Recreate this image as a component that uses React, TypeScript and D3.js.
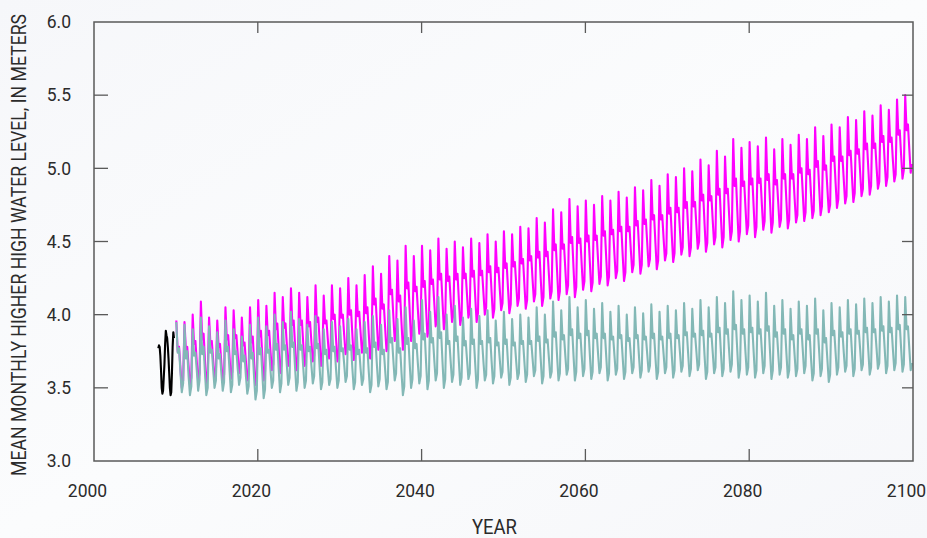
import React, { useEffect, useRef, useState } from "react";
import * as d3 from "d3";

const X_TICKS = [2000, 2020, 2040, 2060, 2080, 2100];
const Y_TICKS = [3.0, 3.5, 4.0, 4.5, 5.0, 5.5, 6.0];
const Y_LABEL = "MEAN MONTHLY HIGHER HIGH WATER LEVEL, IN METERS";
const X_LABEL = "YEAR";

// Observed record, monthly, starting late 2007
const OBS_START = 2007.85;
const OBSERVED = [3.77, 3.79, 3.78, 3.72, 3.62, 3.5, 3.46, 3.48, 3.57, 3.66, 3.8, 3.89, 3.86, 3.84, 3.78, 3.7, 3.6, 3.5, 3.45, 3.47, 3.6, 3.78, 3.88, 3.84];

// Projections, one row per year from 2010, six bi-monthly samples each
const PROJ_START = 2010;
const LOW_ROWS = [
  [3.95, 3.74, 3.77, 3.61, 3.47, 3.53], [3.93, 3.7, 3.75, 3.58, 3.45, 3.51], [3.9, 3.72, 3.74, 3.62, 3.48, 3.55],
  [3.98, 3.73, 3.78, 3.6, 3.45, 3.5], [3.92, 3.74, 3.76, 3.63, 3.5, 3.55], [3.88, 3.7, 3.73, 3.6, 3.48, 3.54],
  [3.96, 3.75, 3.78, 3.62, 3.47, 3.52], [3.9, 3.73, 3.75, 3.63, 3.52, 3.57], [3.85, 3.68, 3.72, 3.58, 3.46, 3.51],
  [3.93, 3.7, 3.74, 3.57, 3.42, 3.48], [3.98, 3.73, 3.77, 3.6, 3.43, 3.49], [3.92, 3.74, 3.76, 3.62, 3.5, 3.55],
  [4.0, 3.76, 3.8, 3.63, 3.47, 3.53], [3.95, 3.76, 3.79, 3.65, 3.52, 3.57], [4.02, 3.78, 3.81, 3.64, 3.48, 3.54],
  [3.97, 3.76, 3.79, 3.64, 3.5, 3.55], [3.93, 3.75, 3.78, 3.65, 3.53, 3.58], [3.99, 3.77, 3.8, 3.64, 3.49, 3.54],
  [3.9, 3.73, 3.76, 3.63, 3.52, 3.56], [3.95, 3.75, 3.78, 3.63, 3.5, 3.55], [3.92, 3.75, 3.77, 3.66, 3.54, 3.58],
  [3.97, 3.76, 3.79, 3.63, 3.49, 3.54], [3.9, 3.73, 3.76, 3.63, 3.52, 3.56], [3.95, 3.74, 3.77, 3.61, 3.47, 3.52],
  [3.99, 3.78, 3.81, 3.65, 3.51, 3.56], [3.93, 3.73, 3.76, 3.62, 3.49, 3.54], [4.03, 3.81, 3.84, 3.69, 3.55, 3.6],
  [3.97, 3.74, 3.77, 3.6, 3.45, 3.51], [4.05, 3.8, 3.84, 3.66, 3.5, 3.56], [3.96, 3.77, 3.8, 3.66, 3.53, 3.58],
  [4.1, 3.83, 3.87, 3.67, 3.49, 3.55], [4.02, 3.81, 3.84, 3.69, 3.55, 3.6], [4.12, 3.84, 3.88, 3.68, 3.5, 3.56],
  [4.0, 3.8, 3.82, 3.68, 3.54, 3.59], [4.06, 3.82, 3.85, 3.68, 3.52, 3.57], [3.98, 3.79, 3.82, 3.69, 3.56, 3.6],
  [4.04, 3.8, 3.83, 3.66, 3.5, 3.56], [3.99, 3.8, 3.82, 3.68, 3.55, 3.59], [4.03, 3.81, 3.84, 3.68, 3.53, 3.58],
  [3.96, 3.79, 3.81, 3.69, 3.57, 3.61], [4.02, 3.8, 3.83, 3.67, 3.52, 3.57], [3.97, 3.79, 3.81, 3.68, 3.56, 3.6],
  [4.0, 3.8, 3.82, 3.68, 3.54, 3.59], [3.98, 3.8, 3.82, 3.7, 3.58, 3.62], [4.05, 3.82, 3.85, 3.69, 3.53, 3.58],
  [4.0, 3.81, 3.83, 3.7, 3.57, 3.61], [4.09, 3.85, 3.88, 3.71, 3.55, 3.6], [4.03, 3.83, 3.86, 3.72, 3.59, 3.63],
  [4.12, 3.86, 3.9, 3.72, 3.55, 3.61], [4.05, 3.84, 3.87, 3.72, 3.58, 3.63], [4.1, 3.86, 3.89, 3.72, 3.56, 3.61],
  [4.04, 3.84, 3.87, 3.73, 3.6, 3.64], [4.08, 3.84, 3.87, 3.71, 3.55, 3.6], [4.02, 3.83, 3.85, 3.72, 3.59, 3.63],
  [4.06, 3.84, 3.86, 3.71, 3.56, 3.61], [4.0, 3.82, 3.84, 3.72, 3.6, 3.64], [4.05, 3.84, 3.86, 3.71, 3.57, 3.62],
  [4.01, 3.83, 3.85, 3.73, 3.61, 3.65], [4.07, 3.84, 3.87, 3.71, 3.56, 3.61], [4.02, 3.83, 3.85, 3.73, 3.6, 3.64],
  [4.06, 3.84, 3.87, 3.72, 3.57, 3.62], [4.03, 3.84, 3.86, 3.74, 3.61, 3.65], [4.08, 3.86, 3.88, 3.73, 3.58, 3.63],
  [4.04, 3.85, 3.87, 3.75, 3.62, 3.66], [4.1, 3.86, 3.89, 3.72, 3.56, 3.61], [4.05, 3.85, 3.87, 3.74, 3.6, 3.64],
  [4.12, 3.88, 3.91, 3.74, 3.58, 3.63], [4.08, 3.87, 3.9, 3.75, 3.61, 3.66], [4.16, 3.9, 3.93, 3.75, 3.57, 3.63],
  [4.1, 3.87, 3.9, 3.74, 3.59, 3.64], [4.13, 3.88, 3.91, 3.74, 3.57, 3.62], [4.09, 3.87, 3.9, 3.75, 3.6, 3.65],
  [4.15, 3.89, 3.92, 3.74, 3.56, 3.62], [4.06, 3.85, 3.88, 3.73, 3.59, 3.64], [4.1, 3.87, 3.9, 3.73, 3.57, 3.62],
  [4.04, 3.83, 3.86, 3.72, 3.58, 3.63], [4.09, 3.87, 3.9, 3.75, 3.6, 3.65], [4.06, 3.83, 3.86, 3.7, 3.55, 3.6],
  [4.11, 3.87, 3.9, 3.74, 3.58, 3.63], [4.03, 3.81, 3.84, 3.69, 3.54, 3.59], [4.08, 3.86, 3.89, 3.74, 3.59, 3.64],
  [4.05, 3.85, 3.88, 3.74, 3.61, 3.65], [4.1, 3.87, 3.9, 3.74, 3.58, 3.63], [4.07, 3.87, 3.89, 3.76, 3.62, 3.66],
  [4.11, 3.88, 3.91, 3.75, 3.59, 3.64], [4.08, 3.88, 3.9, 3.77, 3.63, 3.67], [4.12, 3.89, 3.92, 3.76, 3.6, 3.65],
  [4.09, 3.88, 3.91, 3.76, 3.62, 3.67], [4.13, 3.9, 3.93, 3.77, 3.61, 3.66], [4.12, 3.9, 3.92, 3.77, 3.62, 3.67],
];
const HIGH_ROWS = [
  [3.96, 3.75, 3.78, 3.64, 3.5, 3.55], [3.95, 3.76, 3.78, 3.65, 3.52, 3.57], [4.0, 3.8, 3.82, 3.68, 3.55, 3.6],
  [4.09, 3.83, 3.87, 3.69, 3.52, 3.58], [3.98, 3.8, 3.82, 3.69, 3.57, 3.61], [3.96, 3.78, 3.8, 3.67, 3.55, 3.59],
  [4.05, 3.83, 3.86, 3.71, 3.56, 3.61], [4.03, 3.84, 3.86, 3.73, 3.6, 3.64], [3.98, 3.79, 3.81, 3.68, 3.55, 3.6],
  [4.05, 3.81, 3.85, 3.68, 3.52, 3.58], [4.1, 3.85, 3.89, 3.72, 3.55, 3.61], [4.06, 3.86, 3.89, 3.75, 3.62, 3.66],
  [4.15, 3.9, 3.94, 3.77, 3.6, 3.66], [4.12, 3.91, 3.94, 3.79, 3.65, 3.7], [4.18, 3.93, 3.96, 3.79, 3.62, 3.68],
  [4.15, 3.93, 3.96, 3.8, 3.65, 3.7], [4.12, 3.92, 3.95, 3.81, 3.68, 3.72], [4.2, 3.95, 3.98, 3.82, 3.65, 3.71],
  [4.13, 3.94, 3.96, 3.83, 3.7, 3.74], [4.2, 3.97, 4.0, 3.84, 3.68, 3.73], [4.18, 3.98, 4.0, 3.86, 3.73, 3.77],
  [4.25, 4.0, 4.03, 3.86, 3.69, 3.75], [4.2, 3.99, 4.02, 3.88, 3.74, 3.78], [4.27, 4.01, 4.05, 3.87, 3.7, 3.76],
  [4.33, 4.07, 4.11, 3.93, 3.76, 3.82], [4.28, 4.04, 4.07, 3.91, 3.75, 3.8], [4.4, 4.14, 4.17, 3.99, 3.82, 3.88],
  [4.37, 4.09, 4.13, 3.94, 3.76, 3.82], [4.47, 4.18, 4.22, 4.02, 3.82, 3.88], [4.4, 4.16, 4.19, 4.03, 3.87, 3.92],
  [4.47, 4.19, 4.23, 4.04, 3.85, 3.91], [4.44, 4.21, 4.24, 4.08, 3.92, 3.97], [4.52, 4.24, 4.28, 4.09, 3.9, 3.96],
  [4.45, 4.23, 4.26, 4.1, 3.95, 4.0], [4.5, 4.24, 4.28, 4.1, 3.93, 3.99], [4.46, 4.25, 4.28, 4.13, 3.98, 4.03],
  [4.52, 4.26, 4.3, 4.12, 3.95, 4.01], [4.49, 4.27, 4.3, 4.15, 4.0, 4.05], [4.55, 4.29, 4.33, 4.15, 3.98, 4.04],
  [4.5, 4.29, 4.32, 4.17, 4.03, 4.08], [4.57, 4.32, 4.35, 4.18, 4.01, 4.07], [4.55, 4.33, 4.36, 4.21, 4.06, 4.11],
  [4.6, 4.35, 4.38, 4.21, 4.04, 4.1], [4.59, 4.37, 4.4, 4.24, 4.09, 4.14], [4.66, 4.39, 4.43, 4.24, 4.06, 4.12],
  [4.63, 4.4, 4.43, 4.27, 4.11, 4.16], [4.72, 4.44, 4.48, 4.29, 4.1, 4.16], [4.7, 4.45, 4.48, 4.31, 4.14, 4.2],
  [4.79, 4.49, 4.53, 4.32, 4.12, 4.19], [4.74, 4.49, 4.52, 4.34, 4.17, 4.23], [4.78, 4.5, 4.54, 4.35, 4.16, 4.22],
  [4.75, 4.51, 4.54, 4.37, 4.21, 4.26], [4.81, 4.54, 4.57, 4.38, 4.2, 4.26], [4.78, 4.55, 4.58, 4.41, 4.25, 4.3],
  [4.84, 4.57, 4.6, 4.41, 4.23, 4.29], [4.8, 4.57, 4.6, 4.44, 4.29, 4.34], [4.87, 4.61, 4.64, 4.46, 4.28, 4.34],
  [4.85, 4.62, 4.65, 4.49, 4.33, 4.38], [4.92, 4.65, 4.68, 4.49, 4.31, 4.37], [4.88, 4.65, 4.68, 4.52, 4.37, 4.42],
  [4.96, 4.69, 4.73, 4.54, 4.36, 4.42], [4.94, 4.7, 4.73, 4.57, 4.41, 4.46], [5.0, 4.73, 4.77, 4.58, 4.4, 4.46],
  [4.98, 4.74, 4.77, 4.61, 4.45, 4.5], [5.06, 4.78, 4.82, 4.62, 4.43, 4.49], [5.02, 4.78, 4.81, 4.64, 4.48, 4.53],
  [5.12, 4.82, 4.86, 4.66, 4.46, 4.53], [5.08, 4.83, 4.86, 4.68, 4.51, 4.57], [5.2, 4.88, 4.93, 4.71, 4.5, 4.57],
  [5.14, 4.88, 4.91, 4.73, 4.55, 4.61], [5.18, 4.89, 4.93, 4.73, 4.53, 4.6], [5.15, 4.9, 4.93, 4.75, 4.58, 4.64],
  [5.21, 4.92, 4.96, 4.76, 4.56, 4.63], [5.13, 4.89, 4.92, 4.76, 4.6, 4.65], [5.2, 4.93, 4.96, 4.77, 4.59, 4.65],
  [5.16, 4.93, 4.96, 4.79, 4.63, 4.68], [5.23, 4.97, 5.0, 4.82, 4.64, 4.7], [5.2, 4.96, 4.99, 4.82, 4.66, 4.71],
  [5.28, 5.01, 5.05, 4.86, 4.68, 4.74], [5.22, 4.99, 5.02, 4.86, 4.7, 4.75], [5.3, 5.05, 5.08, 4.9, 4.73, 4.79],
  [5.28, 5.05, 5.08, 4.92, 4.76, 4.81], [5.35, 5.09, 5.12, 4.94, 4.77, 4.83], [5.33, 5.1, 5.13, 4.97, 4.81, 4.86],
  [5.39, 5.13, 5.17, 4.99, 4.82, 4.88], [5.36, 5.14, 5.17, 5.01, 4.86, 4.91], [5.43, 5.18, 5.22, 5.04, 4.88, 4.94],
  [5.4, 5.18, 5.21, 5.05, 4.91, 4.96], [5.47, 5.23, 5.26, 5.09, 4.93, 4.99], [5.5, 5.26, 5.3, 5.13, 4.97, 5.03],
];

const W = 927;
const H = 538;
const M = { left: 94, right: 913, top: 22, bottom: 461 };
const Y_LABEL_LEN = 462;

type Pt = { t: number; v: number };

function rowsToPoints(rows: number[][], start: number): Pt[] {
  const out: Pt[] = [];
  rows.forEach((row, yi) => {
    row.forEach((v, k) => {
      out.push({ t: start + yi + (k + 0.3) / row.length, v });
    });
  });
  return out;
}

export default function App() {
  const yLabelRef = useRef<SVGTextElement | null>(null);
  const [labelScale, setLabelScale] = useState(0.88);

  useEffect(() => {
    const el = yLabelRef.current;
    if (el && el.getComputedTextLength) {
      const len = el.getComputedTextLength();
      if (len > 0) setLabelScale(Y_LABEL_LEN / len);
    }
  }, []);

  const x = d3.scaleLinear().domain([2000, 2100]).range([M.left, M.right]);
  const y = d3.scaleLinear().domain([3, 6]).range([M.bottom, M.top]);
  const line = d3
    .line<Pt>()
    .x((d) => x(d.t))
    .y((d) => y(d.v));

  const obs: Pt[] = OBSERVED.map((v, i) => ({ t: OBS_START + i / 12, v }));
  const low = rowsToPoints(LOW_ROWS, PROJ_START);
  const high = rowsToPoints(HIGH_ROWS, PROJ_START);

  const axisColor = "#5a5a5a";
  const textColor = "#2b2b2b";
  const numFont = "Roboto, 'Liberation Sans', sans-serif";

  return (
    <svg
      width={W}
      height={H}
      style={{ position: "absolute", left: 0, top: 0, background: "#f8f9fb" }}
    >
      <defs>
        <linearGradient id="bg" x1="0" y1="0" x2="1" y2="1">
          <stop offset="0" stopColor="#f6f7fa" />
          <stop offset="0.5" stopColor="#fbfcfd" />
          <stop offset="1" stopColor="#f6f7fa" />
        </linearGradient>
      </defs>
      <rect x={0} y={0} width={W} height={H} fill="url(#bg)" />

      <path d={line(high) || ""} fill="none" stroke="#ff00ff" strokeWidth={2.1} strokeLinejoin="round" />
      <path d={line(low) || ""} fill="none" stroke="#83b8b6" strokeWidth={2.1} strokeLinejoin="round" />
      <path d={line(obs) || ""} fill="none" stroke="#000000" strokeWidth={2.1} strokeLinejoin="round" />

      {/* frame */}
      <rect
        x={M.left}
        y={M.top}
        width={M.right - M.left}
        height={M.bottom - M.top}
        fill="none"
        stroke={axisColor}
        strokeWidth={1.5}
      />

      {/* y ticks */}
      {Y_TICKS.map((t) => (
        <g key={"y" + t}>
          {t > 3 && t < 6 && (
            <>
              <line x1={M.left} x2={M.left + 14} y1={y(t)} y2={y(t)} stroke={axisColor} strokeWidth={1.3} />
              <line x1={M.right - 11} x2={M.right} y1={y(t)} y2={y(t)} stroke={axisColor} strokeWidth={1.3} />
            </>
          )}
          <text
            x={71}
            y={y(t)}
            dy="0.36em"
            textAnchor="end"
            fontFamily={numFont}
            fontSize={17.5}
            fill={textColor}
          >
            {t.toFixed(1)}
          </text>
        </g>
      ))}

      {/* x ticks */}
      {X_TICKS.map((t) => (
        <g key={"x" + t}>
          {t > 2000 && t < 2100 && (
            <>
              <line x1={x(t)} x2={x(t)} y1={M.bottom} y2={M.bottom - 12} stroke={axisColor} strokeWidth={1.3} />
              <line x1={x(t)} x2={x(t)} y1={M.top} y2={M.top + 11} stroke={axisColor} strokeWidth={1.3} />
            </>
          )}
          <text
            x={x(t) - 6.5}
            y={497}
            textAnchor="middle"
            fontFamily={numFont}
            fontSize={17.5}
            fill={textColor}
          >
            {t}
          </text>
        </g>
      ))}

      <text
        x={494.5}
        y={534}
        textAnchor="middle"
        fontFamily={numFont}
        fontSize={20}
        fill={textColor}
        textLength={45}
        lengthAdjust="spacingAndGlyphs"
      >
        {X_LABEL}
      </text>

      <g transform={`translate(26,245) rotate(-90) scale(${labelScale},1)`}>
        <text
          ref={yLabelRef}
          x={0}
          y={0}
          textAnchor="middle"
          fontFamily={numFont}
          fontSize={21}
          fill={textColor}
        >
          {Y_LABEL}
        </text>
      </g>
    </svg>
  );
}
